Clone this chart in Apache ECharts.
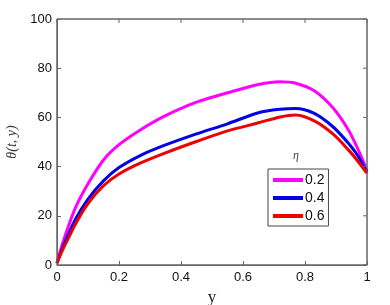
<!DOCTYPE html>
<html><head><meta charset="utf-8">
<script src="https://cdn.jsdelivr.net/npm/echarts@6/dist/echarts.min.js"></script>
<style>html,body{margin:0;padding:0;background:#fff}#c{width:390px;height:305px}</style>
</head><body><div id="c"></div>
<script>
var xs = [0, 0.015, 0.03, 0.06, 0.1, 0.15, 0.2, 0.27, 0.35, 0.45, 0.55, 0.65, 0.72, 0.77, 0.83, 0.89, 0.94, 0.97, 1];
var eta02 = [0.8, 7.5, 13.3, 23.4, 33, 42.7, 48.9, 55, 60.7, 66.2, 70, 73.4, 74.5, 73.9, 70.8, 63.9, 54.9, 47.3, 38.5];
var eta04 = [0.8, 6, 10.5, 18.7, 26.8, 34.2, 39.6, 44.6, 48.8, 53.3, 57.4, 61.9, 63.3, 63.6, 61.6, 56.2, 49.5, 44.5, 37.8];
var eta06 = [0.8, 5.3, 9.2, 16.8, 25, 32.2, 37, 41.5, 45.6, 50.2, 54.5, 57.8, 60.2, 61, 58.6, 53.3, 46.8, 42.3, 37.3];
var seriesNames = ['0.2', '0.4', '0.6'];
var xTicks = [0, 0.2, 0.4, 0.6, 0.8, 1];
var yTicks = [0, 20, 40, 60, 80, 100];
var X_MIN = 0, X_MAX = 1, Y_MIN = 0, Y_MAX = 100;
function pairs(v){ return xs.map(function(x,i){ return [x, v[i]]; }); }
var colors = ['#ff00ff', '#0000e6', '#ee0000'];
var chart = echarts.init(document.getElementById('c'));
var axisLine = {show:true, onZero:false, lineStyle:{color:'#666', width:1}};
var tick = {show:true, inside:true, length:4, lineStyle:{color:'#666'}};
var lbl = {color:'#111', fontSize:13, fontFamily:'Liberation Sans, Arial, sans-serif'};
var GRID = {left:57, right:23, top:19, bottom:40};
var series = [eta02, eta04, eta06].map(function(v,i){
  return {name:seriesNames[i], type:'line', data:pairs(v), smooth:0.3, showSymbol:false,
    lineStyle:{color:colors[i], width:3}, itemStyle:{color:colors[i]}};
});
chart.setOption({
  animation:false,
  grid:Object.assign({outerBoundsMode:'none', containLabel:false, show:true, borderColor:'#666', borderWidth:1, backgroundColor:'rgba(0,0,0,0)'}, GRID),
  xAxis:{type:'value', min:X_MIN, max:X_MAX, interval:0.2,
     axisLine:axisLine, axisTick:tick, splitLine:{show:false},
     axisLabel:Object.assign({margin:6, formatter:function(v){var r=Math.round(v*10)/10; return xTicks.indexOf(r)>=0 ? String(r) : '';}}, lbl),
     name:'y', nameLocation:'middle', nameGap:24,
     nameTextStyle:{fontFamily:'Liberation Serif, Times New Roman, serif', fontSize:17, color:'#222'}},
  yAxis:{type:'value', min:Y_MIN, max:Y_MAX, interval:20,
     axisLine:axisLine, axisTick:tick, splitLine:{show:false},
     axisLabel:Object.assign({margin:5, formatter:function(v){return yTicks.indexOf(v)>=0 ? String(v) : '';}}, lbl),
     name:'θ(t, y)', nameLocation:'middle', nameGap:37, nameRotate:90,
     nameTextStyle:{fontFamily:'Liberation Serif, Times New Roman, serif', fontStyle:'italic', fontSize:14, color:'#333'}},
  legend:{
    orient:'vertical', left:268, top:169,
    data:seriesNames,
    icon:'rect', itemWidth:30, itemHeight:4, itemGap:4,
    borderColor:'#444', borderWidth:1, borderRadius:0,
    padding:[4,4,3,5],
    textStyle:{color:'#111', fontSize:14, lineHeight:14, padding:[0,0,0,-3], fontFamily:'Liberation Sans, Arial, sans-serif'}
  },
  series:series
});
// top/right frame and mirrored inward ticks, placed through the axes' own scales
var tl = chart.convertToPixel({gridIndex:0}, [X_MIN, Y_MAX]);
var br = chart.convertToPixel({gridIndex:0}, [X_MAX, Y_MIN]);
var g = [{type:'rect', shape:{x:tl[0], y:tl[1], width:br[0]-tl[0], height:br[1]-tl[1]},
  style:{fill:'rgba(0,0,0,0)', stroke:'#666', lineWidth:1}, silent:true, z:50}];
xTicks.forEach(function(t){
  var p = chart.convertToPixel({gridIndex:0}, [t, Y_MAX]);
  g.push({type:'rect', shape:{x:p[0]-0.5, y:p[1], width:1, height:4}, style:{fill:'#666'}, silent:true, z:50});
});
yTicks.forEach(function(t){
  var p = chart.convertToPixel({gridIndex:0}, [X_MAX, t]);
  g.push({type:'rect', shape:{x:p[0]-4, y:p[1]-0.5, width:4, height:1}, style:{fill:'#666'}, silent:true, z:50});
});
g.push({type:'text', left:293, top:150, style:{text:'η', font:'italic 12px Liberation Serif, serif', fill:'#444'}});
chart.setOption({graphic:g});
</script></body></html>
